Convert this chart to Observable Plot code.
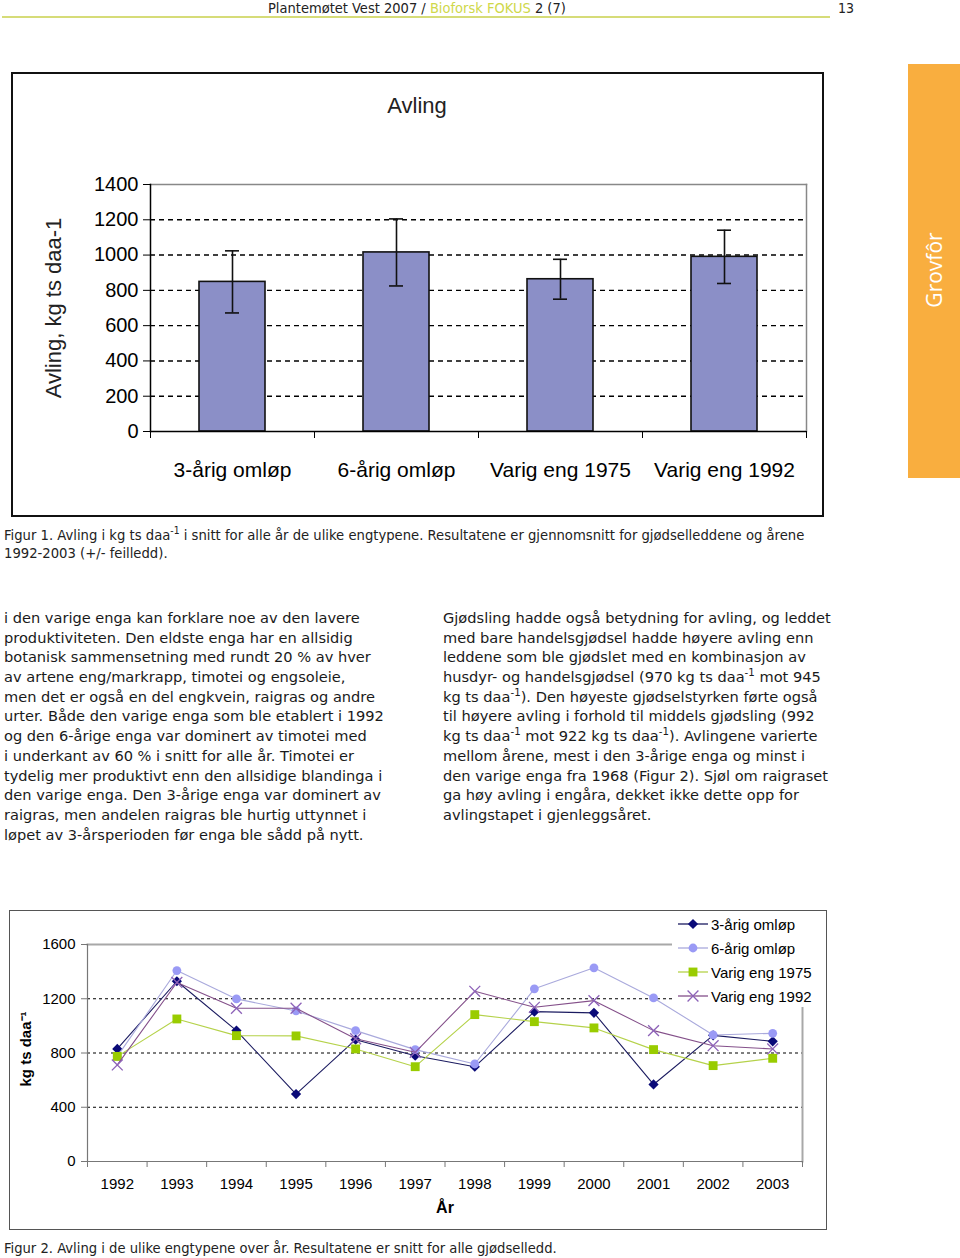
<!DOCTYPE html>
<html><head><meta charset="utf-8">
<script src="https://cdn.jsdelivr.net/npm/d3@7"></script>
<script src="https://cdn.jsdelivr.net/npm/@observablehq/plot@0.6"></script>
<style>
html,body{margin:0;padding:0;background:#fff;}
body{width:960px;height:1258px;position:relative;overflow:hidden;font-family:"Liberation Sans",Arial,sans-serif;color:#111;}
.abs{position:absolute;}
.narrow{font-family:"DejaVu Sans Condensed","Liberation Sans Narrow","DejaVu Sans",sans-serif;}
.body{font-family:"DejaVu Sans",Verdana,sans-serif;white-space:nowrap;}
.body div{white-space:nowrap;height:19.7px;line-height:19.7px;}
sup{font-size:0.7em;line-height:0;vertical-align:0.55em;}
.legrow{position:absolute;left:0;height:20px;display:flex;align-items:center;font-size:15px;font-family:"Liberation Sans",Arial,sans-serif;color:#000;}
</style></head><body>
<script>
// ---------- DATA ----------
const categories = ["3-årig omløp", "6-årig omløp", "Varig eng 1975", "Varig eng 1992"];
const avling = [848, 1015, 863, 990];
const feil = [176, 190, 113, 151];
const yTicks1 = [0, 200, 400, 600, 800, 1000, 1200, 1400];

const years = [1992, 1993, 1994, 1995, 1996, 1997, 1998, 1999, 2000, 2001, 2002, 2003];
const seriesNames = ["3-årig omløp", "6-årig omløp", "Varig eng 1975", "Varig eng 1992"];
const arig3 = [830, 1329, 965, 497, 898, 780, 699, 1105, 1096, 568, 930, 886];
const arig6 = [775, 1408, 1199, 1110, 965, 825, 719, 1273, 1428, 1206, 933, 945];
const varig1975 = [775, 1051, 928, 926, 830, 699, 1083, 1031, 985, 825, 707, 761];
const varig1992 = [712, 1320, 1130, 1130, 905, 805, 1255, 1137, 1186, 965, 854, 830];
const yTicks2 = [0, 400, 800, 1200, 1600];

// ---------- STYLES ----------
const seriesStyle = [
  {line: "#1b1b60", symbol: "diamond2", fill: "#0a0a78", stroke: "none", r: 4.6},
  {line: "#a9a9dc", symbol: "circle", fill: "#9a9af5", stroke: "none", r: 4.4},
  {line: "#b5d24a", symbol: "square", fill: "#99cc00", stroke: "none", r: 5},
  {line: "#84508a", symbol: "times", fill: "none", stroke: "#8d62b8", r: 5}
];
const plain = d => String(d);

function add(html, cls, style) {
  const d = document.createElement("div");
  d.className = "abs " + (cls || "");
  Object.assign(d.style, style || {});
  d.innerHTML = html;
  document.body.appendChild(d);
  return d;
}
function fitTo(el, target) {
  const s = el.querySelector("span") || el;
  const w = s.getBoundingClientRect().width;
  const fs = parseFloat(getComputedStyle(el).fontSize);
  return fs * target / w;
}

// ---------- HEADER ----------
const hdr = add('<span>Plantemøtet Vest 2007 / <span style="color:#cfd84a">Bioforsk FOKUS</span> 2 (7)</span>', "narrow", {left: "268px", top: "0px", fontSize: "14px", whiteSpace: "nowrap", lineHeight: "16px", color: "#222"});
hdr.style.fontSize = fitTo(hdr, 298) + "px";
add("13", "narrow", {left: "838px", top: "0px", fontSize: "14px", lineHeight: "16px", color: "#222"});
add("", "", {left: "2px", top: "16px", width: "828px", height: "2px", background: "#d6dc78"});

// ---------- SIDE TAB ----------
add("", "", {left: "908px", top: "64px", width: "52px", height: "414px", background: "#f9ae3f"});
add("Grovfôr", "", {left: "934px", top: "270px", transform: "translate(-50%,-50%) rotate(-90deg)", color: "#fff", fontFamily: "'Open Sans',sans-serif", fontSize: "21px", whiteSpace: "nowrap"});

// ---------- FIGURE 1 ----------
const fig1 = categories.map((c, i) => ({category: c, avling: avling[i], lo: avling[i] - feil[i], hi: avling[i] + feil[i]}));
const W1 = 810, H1 = 442, ML1 = 138, MR1 = 16;
const band1 = (W1 - ML1 - MR1) / categories.length;
const chart1 = Plot.plot({
  width: W1, height: H1,
  marginLeft: ML1, marginRight: MR1, marginTop: 111, marginBottom: 84,
  style: {fontFamily: "'Liberation Sans',Arial,sans-serif", fontSize: "20px", background: "transparent", color: "#000", overflow: "visible"},
  x: {domain: categories, padding: 0, label: null},
  y: {domain: [0, 1400], label: null},
  marks: [
    Plot.gridY(yTicks1.filter(t => t > 0 && t < 1400), {stroke: "#000", strokeOpacity: 1, strokeWidth: 1.4, strokeDasharray: "5,4"}),
    Plot.frame({anchor: "top", stroke: "#888", strokeWidth: 1.5}),
    Plot.frame({anchor: "right", stroke: "#888", strokeWidth: 1.5}),
    Plot.barY(fig1, {x: "category", y: "avling", fill: "#8b8fc7", stroke: "#111", strokeWidth: 1.6, insetLeft: 49, insetRight: 49}),
    Plot.ruleX(fig1, {x: "category", y1: "lo", y2: "hi", stroke: "#111", strokeWidth: 1.6}),
    Plot.tickY(fig1, {x: "category", y: "lo", stroke: "#111", strokeWidth: 1.6, insetLeft: 75, insetRight: 75}),
    Plot.tickY(fig1, {x: "category", y: "hi", stroke: "#111", strokeWidth: 1.6, insetLeft: 75, insetRight: 75}),
    Plot.axisY({ticks: yTicks1, tickSize: 7, tickPadding: 5, fontSize: 20, stroke: "#000", tickFormat: plain, label: null}),
    Plot.text(["Avling, kg ts daa-1"], {frameAnchor: "left", textAnchor: "middle", rotate: -90, dx: -97, fontSize: 22, fill: "#222"}),
    Plot.axisX({tickSize: 0, tickPadding: 31, fontSize: 21}),
    Plot.axisX({tickSize: 7, tickFormat: () => "", dx: -band1 / 2, stroke: "#000"}),
    Plot.axisX({ticks: [categories[categories.length - 1]], tickSize: 7, tickFormat: () => "", dx: band1 / 2, stroke: "#000"}),
    Plot.ruleY([0], {stroke: "#000", strokeWidth: 1.5}),
    Plot.frame({anchor: "left", stroke: "#000", strokeWidth: 1.5})
  ]
});
const c1 = add("", "", {left: "12px", top: "73px"});
c1.appendChild(chart1);
add("", "", {left: "11px", top: "72px", width: "809px", height: "441px", border: "2px solid #111"});
add("Avling", "", {left: "12px", top: "93px", width: "810px", textAlign: "center", fontSize: "22px", color: "#222"});

// Caption 1
const cap1 = add('<div><span>Figur 1. Avling i kg ts daa<sup>-1</sup> i snitt for alle år de ulike engtypene. Resultatene er gjennomsnitt for gjødselleddene og årene</span></div><div>1992-2003 (+/- feilledd).</div>', "narrow", {left: "4px", top: "526px", fontSize: "14px", lineHeight: "17.5px", whiteSpace: "nowrap", color: "#222"});
cap1.style.fontSize = fitTo(cap1.firstChild, 801) + "px";

// ---------- BODY TEXT ----------
const leftLines = [
  "i den varige enga kan forklare noe av den lavere",
  "produktiviteten. Den eldste enga har en allsidig",
  "botanisk sammensetning med rundt 20 % av hver",
  "av artene eng/markrapp, timotei og engsoleie,",
  "men det er også en del engkvein, raigras og andre",
  "urter. Både den varige enga som ble etablert i 1992",
  "og den 6-årige enga var dominert av timotei med",
  "i underkant av 60 % i snitt for alle år. Timotei er",
  "tydelig mer produktivt enn den allsidige blandinga i",
  "den varige enga. Den 3-årige enga var dominert av",
  "raigras, men andelen raigras ble hurtig uttynnet i",
  "løpet av 3-årsperioden før enga ble sådd på nytt."
];
const rightLines = [
  "Gjødsling hadde også betydning for avling, og leddet",
  "med bare handelsgjødsel hadde høyere avling enn",
  "leddene som ble gjødslet med en kombinasjon av",
  "husdyr- og handelsgjødsel (970 kg ts daa<sup>-1</sup> mot 945",
  "kg ts daa<sup>-1</sup>). Den høyeste gjødselstyrken førte også",
  "til høyere avling i forhold til middels gjødsling (992",
  "kg ts daa<sup>-1</sup> mot 922 kg ts daa<sup>-1</sup>). Avlingene varierte",
  "mellom årene, mest i den 3-årige enga og minst i",
  "den varige enga fra 1968 (Figur 2). Sjøl om raigraset",
  "ga høy avling i engåra, dekket ikke dette opp for",
  "avlingstapet i gjenleggsåret."
];
const bl = add(leftLines.map(l => `<div><span>${l}</span></div>`).join(""), "body", {left: "4px", top: "608px", fontSize: "14px", color: "#1a1a1a"});
const bodyFs = fitTo(bl.firstChild, 356);
bl.style.fontSize = bodyFs + "px";
add(rightLines.map(l => `<div><span>${l}</span></div>`).join(""), "body", {left: "443px", top: "608px", fontSize: bodyFs + "px", color: "#1a1a1a"});

// ---------- FIGURE 2 ----------
const allSeries = [arig3, arig6, varig1975, varig1992];
const W2 = 816, H2 = 318;
const marks2 = [
  Plot.gridY(yTicks2.filter(t => t > 0 && t < 1600), {stroke: "#000", strokeOpacity: 1, strokeWidth: 1.2, strokeDasharray: "3,3"}),
  Plot.frame({anchor: "top", stroke: "#a8a8a8", strokeWidth: 2}),
  Plot.frame({anchor: "right", stroke: "#a8a8a8", strokeWidth: 2}),
  Plot.axisY({ticks: yTicks2, tickSize: 6, tickPadding: 6, fontSize: 15, stroke: "#777", tickFormat: plain, label: null}),
  Plot.axisX({ticks: years, tickSize: 0, tickPadding: 17, fontSize: 15, tickFormat: plain, label: null}),
  Plot.axisX({ticks: [...years.map(y => y - 0.5), years[years.length - 1] + 0.5], tickSize: 6, tickFormat: () => "", stroke: "#777"}),
  Plot.ruleY([0], {stroke: "#777", strokeWidth: 1.2}),
  Plot.frame({anchor: "left", stroke: "#777", strokeWidth: 1.2}),
  Plot.text(["kg ts daa⁻¹"], {frameAnchor: "left", textAnchor: "middle", rotate: -90, dx: -61, dy: -4, fontWeight: "bold", fontSize: 15, fill: "#000"}),
  Plot.text(["År"], {frameAnchor: "bottom", dy: 51, fontWeight: "bold", fontSize: 16, fill: "#000"})
];
allSeries.forEach((vals, si) => {
  const rows = years.map((y, i) => ({year: y, value: vals[i]}));
  const st = seriesStyle[si];
  marks2.push(Plot.line(rows, {x: "year", y: "value", stroke: st.line, strokeWidth: 1.1}));
  marks2.push(Plot.dot(rows, {x: "year", y: "value", symbol: st.symbol, r: st.r, fill: st.fill, stroke: st.stroke, strokeWidth: 1.3}));
});
const chart2 = Plot.plot({
  width: W2, height: H2,
  marginLeft: 77, marginRight: 24, marginTop: 33, marginBottom: 68,
  style: {fontFamily: "'Liberation Sans',Arial,sans-serif", fontSize: "15px", background: "transparent", color: "#000", overflow: "visible"},
  x: {domain: [years[0] - 0.5, years[years.length - 1] + 0.5], label: null},
  y: {domain: [0, 1600], label: null},
  marks: marks2
});
const c2 = add("", "", {left: "10px", top: "911px"});
c2.appendChild(chart2);
add("", "", {left: "9px", top: "910px", width: "816px", height: "318px", border: "1.5px solid #555"});

// Legend
const leg = add("", "", {left: "672px", top: "912px", width: "152px", height: "95px", background: "#fff"});
const symMap = {diamond2: d3.symbolDiamond2, circle: d3.symbolCircle, square: d3.symbolSquare, times: d3.symbolTimes};
seriesNames.forEach((name, i) => {
  const st = seriesStyle[i];
  const path = d3.symbol(symMap[st.symbol], st.r * st.r * Math.PI)();
  const row = document.createElement("div");
  row.className = "legrow";
  row.style.top = (2 + i * 24) + "px";
  row.innerHTML = `<svg width="38" height="16" style="margin-right:1px"><line x1="6" x2="36" y1="8" y2="8" stroke="${st.line}" stroke-width="1.3"/><path d="${path}" transform="translate(21,8)" fill="${st.fill}" stroke="${st.stroke}" stroke-width="1.3"/></svg><span>${name}</span>`;
  leg.appendChild(row);
});

// Caption 2
const cap2 = add('<span>Figur 2. Avling i de ulike engtypene over år. Resultatene er snitt for alle gjødselledd.</span>', "narrow", {left: "4px", top: "1239px", fontSize: "14px", lineHeight: "17.5px", whiteSpace: "nowrap", color: "#222"});
cap2.style.fontSize = fitTo(cap2, 553) + "px";
</script>
</body></html>
